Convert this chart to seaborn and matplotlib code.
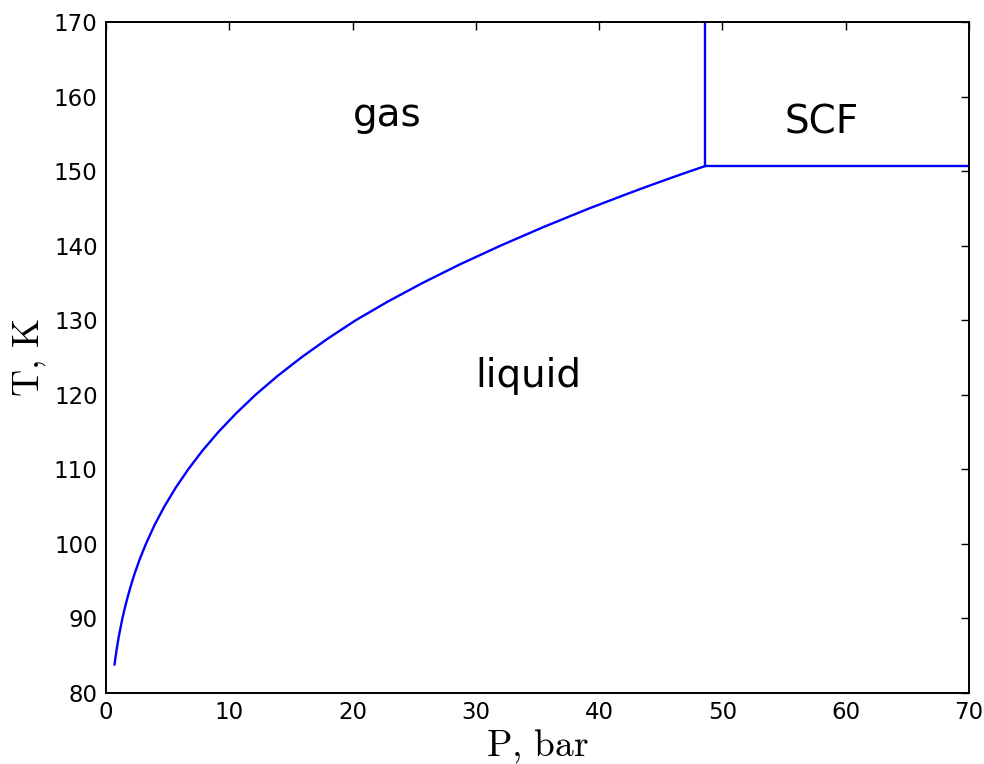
import matplotlib
matplotlib.use("Agg")
import matplotlib.pyplot as plt
import seaborn as sns
import pandas as pd

# Saturation (vapour-liquid) curve
sat_T = [83.8, 84.0, 85.0, 86.0, 87.3, 88.0, 89.0, 90.0, 91.0, 92.0, 93.0, 94.0,
         95.0, 96.0, 98.0, 100.0, 102.5, 105.0, 107.5, 110.0, 112.5, 115.0,
         117.5, 120.0, 122.5, 125.0, 127.5, 130.0, 132.5, 135.0, 137.5, 140.0,
         142.5, 145.0, 147.0, 148.0, 149.0, 150.0, 150.69]
sat_P = [0.69, 0.71, 0.79, 0.88, 1.01, 1.09, 1.21, 1.33, 1.47, 1.62, 1.78, 1.95,
         2.13, 2.32, 2.75, 3.24, 3.93, 4.73, 5.64, 6.67, 7.82, 9.11,
         10.55, 12.13, 13.90, 15.84, 17.96, 20.26, 22.86, 25.68, 28.72, 32.0,
         35.49, 39.2, 42.37, 44.0, 45.68, 47.4, 48.63]
# Critical isobar / isotherm boundaries
crit_vert_P = [48.63, 48.63]
crit_vert_T = [150.69, 170.0]
crit_horiz_P = [48.63, 70.0]
crit_horiz_T = [150.69, 150.69]

region_labels = ["gas", "liquid", "SCF"]
region_P = [20, 30, 55]
region_T = [156, 121, 155]

x_ticks = [0, 10, 20, 30, 40, 50, 60, 70]
y_ticks = [80, 90, 100, 110, 120, 130, 140, 150, 160, 170]

sns.set_style("white")
plt.rcParams["mathtext.fontset"] = "cm"
plt.rcParams["font.family"] = ["DejaVu Sans"]
plt.rcParams["text.color"] = "black"
plt.rcParams["axes.labelcolor"] = "black"

fig = plt.figure(figsize=(9.84, 7.64), dpi=100)
ax = fig.add_axes([0.1077, 0.0929, 0.877, 0.8783])

blue = (0, 0, 1)
df_sat = pd.DataFrame({"P": sat_P, "T": sat_T})
sns.lineplot(data=df_sat, x="P", y="T", sort=False, estimator=None, color=blue, lw=1.7, ax=ax)
sns.lineplot(x=crit_vert_P, y=crit_vert_T, sort=False, estimator=None, color=blue, lw=1.7, ax=ax)
sns.lineplot(x=crit_horiz_P, y=crit_horiz_T, sort=False, estimator=None, color=blue, lw=1.7, ax=ax)

for lab, p, t in zip(region_labels, region_P, region_T):
    ax.text(p, t, lab, fontsize=28, ha="left", va="baseline", color="black")

ax.set_xlim(0, 70)
ax.set_ylim(80, 170)
ax.set_xticks(x_ticks)
ax.set_yticks(y_ticks)
ax.tick_params(direction="in", length=6, width=1, top=True, right=True, labelsize=16.5,
               pad=6, colors="black")
for s in ax.spines.values():
    s.set_visible(True)
    s.set_color("black")
    s.set_linewidth(1.4)

ax.set_xlabel(r"$\mathrm{P,\,bar}$", fontsize=27, labelpad=2, color="black")
ax.set_ylabel(r"$\mathrm{T,\,K}$", fontsize=27, labelpad=4, color="black")

fig.savefig("out.png", dpi=100, facecolor="white")
